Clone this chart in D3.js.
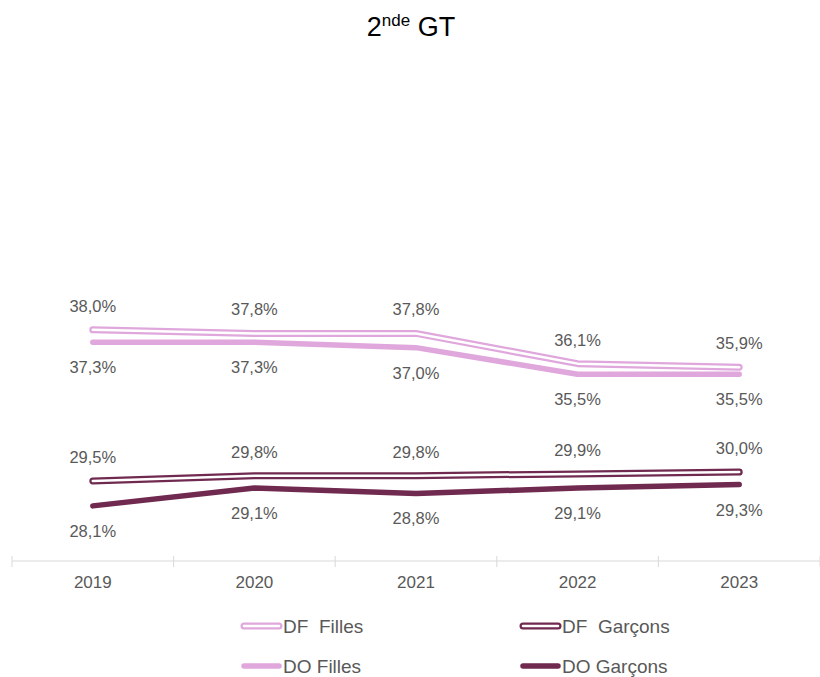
<!DOCTYPE html>
<html lang="fr">
<head>
    <meta charset="UTF-8">
    <title>2nde GT</title>
    <style>
        body { margin: 0; background: #fff; }
        text { font-family: "Liberation Sans", Arial, sans-serif; }
    </style>
</head>
<body>
    <svg id="container" width="820" height="677"></svg>

<script src="https://cdn.jsdelivr.net/npm/d3@7/dist/d3.min.js"></script>
<script>
    // data
    let years = ["2019", "2020", "2021", "2022", "2023"]
    let dfFilles = [38.0, 37.8, 37.8, 36.1, 35.9]
    let doFilles = [37.3, 37.3, 37.0, 35.5, 35.5]
    let dfGarcons = [29.5, 29.8, 29.8, 29.9, 30.0]
    let doGarcons = [28.1, 29.1, 28.8, 29.1, 29.3]

    let pink = "#dfa7dc"
    let plum = "#70294f"
    let labelColor = "#595959"

    let series = [
        { name: "DF  Filles", values: dfFilles, color: pink, hollow: true, labelPos: "above" },
        { name: "DO Filles", values: doFilles, color: pink, hollow: false, labelPos: "below" },
        { name: "DF  Garçons", values: dfGarcons, color: plum, hollow: true, labelPos: "above" },
        { name: "DO Garçons", values: doGarcons, color: plum, hollow: false, labelPos: "below" }
    ]

    let svg = d3.select("#container")

    let x = d3.scaleBand().domain(years).range([12, 820])
    let y = d3.scaleLinear().domain([25, 45]).range([561, 205.4])

    let fmt = v => d3.format(".1f")(v).replace(".", ",") + "%"

    // title
    let title = svg.append("text")
        .attr("x", 411).attr("y", 36)
        .attr("text-anchor", "middle")
        .attr("font-size", 27)
        .attr("fill", "#000")
    title.append("tspan").text("2")
    title.append("tspan").attr("font-size", 17).attr("dy", -10).text("nde")
    title.append("tspan").attr("dy", 10).text(" GT")

    // x axis
    let axis = svg.append("g")
    axis.append("line")
        .attr("x1", 12).attr("x2", 820)
        .attr("y1", 561).attr("y2", 561)
        .attr("stroke", "#d9d9d9").attr("stroke-width", 1.2)
    axis.selectAll(".tick")
        .data(years.concat(["end"]))
        .enter().append("line")
        .attr("x1", (d, i) => 12 + i * x.bandwidth())
        .attr("x2", (d, i) => 12 + i * x.bandwidth())
        .attr("y1", 556).attr("y2", 567)
        .attr("stroke", "#d9d9d9")
    axis.selectAll(".lbl")
        .data(years)
        .enter().append("text")
        .attr("x", d => x(d) + x.bandwidth() / 2)
        .attr("y", 588)
        .attr("text-anchor", "middle")
        .attr("font-size", 17)
        .attr("fill", labelColor)
        .text(d => d)

    let line = d3.line()
        .x((d, i) => x(years[i]) + x.bandwidth() / 2)
        .y(d => y(d))

    // lines
    for (let s of series) {
        svg.append("path")
            .attr("d", line(s.values))
            .attr("fill", "none")
            .attr("stroke", s.color)
            .attr("stroke-width", s.hollow ? 7 : 5.5)
            .attr("stroke-linecap", "round")
            .attr("stroke-linejoin", "round")
        if (s.hollow) {
            svg.append("path")
                .attr("d", line(s.values))
                .attr("fill", "none")
                .attr("stroke", "#fff")
                .attr("stroke-width", 2.5)
                .attr("stroke-linecap", "round")
                .attr("stroke-linejoin", "round")
        }
    }

    // value labels
    for (let s of series) {
        svg.append("g").selectAll("text")
            .data(s.values)
            .enter().append("text")
            .attr("x", (d, i) => x(years[i]) + x.bandwidth() / 2)
            .attr("y", d => s.labelPos == "above" ? y(d) - 18 : y(d) + 31)
            .attr("text-anchor", "middle")
            .attr("font-size", 16.5)
            .attr("fill", labelColor)
            .text(d => fmt(d))
    }

    // legend
    let legendX = [241, 520]
    let legendY = [626, 666]
    series.forEach((s, i) => {
        let lx = legendX[i >= 2 ? 1 : 0]
        let ly = legendY[i % 2]
        let g = svg.append("g")
        g.append("line")
            .attr("x1", lx + 3).attr("x2", lx + 38)
            .attr("y1", ly).attr("y2", ly)
            .attr("stroke", s.color)
            .attr("stroke-width", s.hollow ? 7 : 5.5)
            .attr("stroke-linecap", "round")
        if (s.hollow) {
            g.append("line")
                .attr("x1", lx + 3).attr("x2", lx + 38)
                .attr("y1", ly).attr("y2", ly)
                .attr("stroke", "#fff")
                .attr("stroke-width", 2.5)
                .attr("stroke-linecap", "round")
        }
        g.append("text")
            .attr("x", lx + 42).attr("y", ly + 7)
            .attr("font-size", 19)
            .attr("fill", labelColor)
            .attr("xml:space", "preserve")
            .style("white-space", "pre")
            .text(s.name)
    })
</script>
</body>
</html>
